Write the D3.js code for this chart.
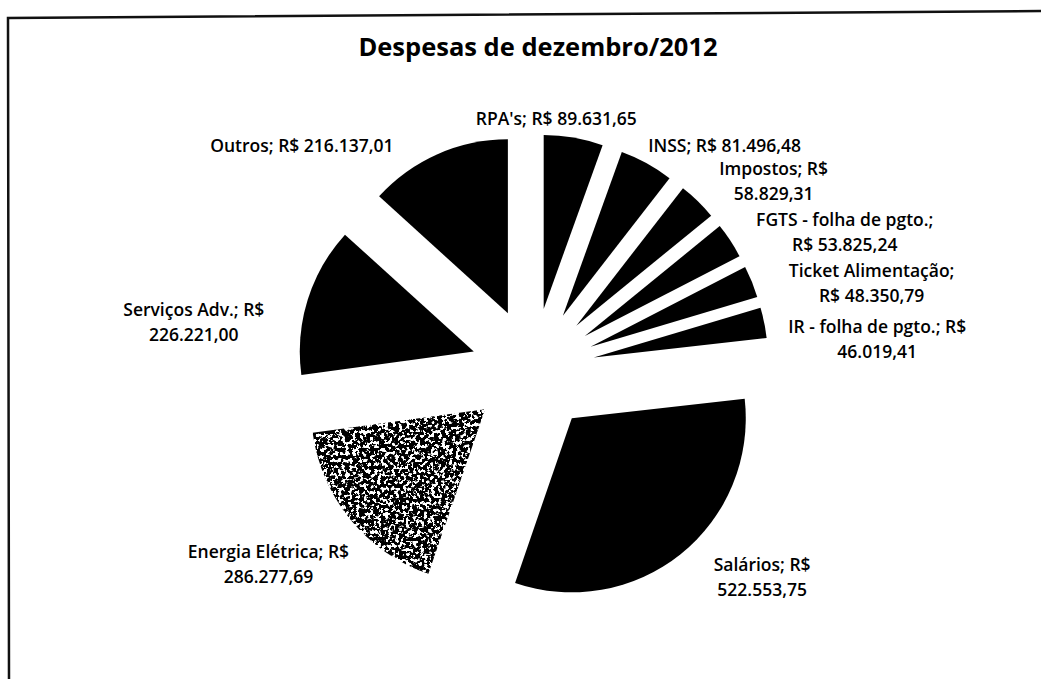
<!DOCTYPE html>
<html>
<head>
<meta charset="utf-8">
<script src="https://cdn.jsdelivr.net/npm/d3@7"></script>
<style>
  body { margin: 0; background: #fff; }
  svg { display: block; font-family: "Open Sans", Lato, sans-serif; }
</style>
</head>
<body>
<svg id="chart" width="1041" height="679"></svg>
<script>
// data
const categories = ["RPA's", "INSS", "Impostos", "FGTS - folha de pgto.", "Ticket Alimentação",
    "IR - folha de pgto.", "Salários", "Energia Elétrica", "Serviços Adv.", "Outros"];
const values = [89631.65, 81496.48, 58829.31, 53825.24, 48350.79,
    46019.41, 522553.75, 286277.69, 226221.00, 216137.01];
// how each label wraps, as excel did it
const label_lines = [
    ["RPA's; R$ 89.631,65"],
    ["INSS; R$ 81.496,48"],
    ["Impostos; R$", "58.829,31"],
    ["FGTS - folha de pgto.;", "R$ 53.825,24"],
    ["Ticket Alimentação;", "R$ 48.350,79"],
    ["IR - folha de pgto.; R$", "46.019,41"],
    ["Salários; R$", "522.553,75"],
    ["Energia Elétrica; R$", "286.277,69"],
    ["Serviços Adv.; R$", "226.221,00"],
    ["Outros; R$ 216.137,01"]
];
const title = "Despesas de dezembro/2012";

// layout
const width = 1041, height = 679;
const cx = 533, cy = 370;
const radius = 174;
const explode = 62;
const label_radius = 240;
const line_height = 25;
// excel pushes labels around to keep them apart
const label_nudge = [[-18, -15], [76, -14], [73, -17], [111, -6], [116, 3],
    [109, 17], [79, 20], [-79, 42], [-110, 24], [-134, -5]];

let svg = d3.select('#chart');

let defs = svg.append('defs');
let grain = defs.append('filter').attr('id', 'grain')
    .attr('x', '-5%').attr('y', '-5%').attr('width', '110%').attr('height', '110%');
grain.append('feTurbulence')
    .attr('type', 'fractalNoise')
    .attr('baseFrequency', 0.28)
    .attr('numOctaves', 4)
    .attr('seed', 11)
    .attr('result', 'noise');
grain.append('feColorMatrix')
    .attr('in', 'noise')
    .attr('type', 'matrix')
    .attr('values', '0 0 0 0 0  0 0 0 0 0  0 0 0 0 0  0 0 0 -16 9.3')
    .attr('result', 'mask');
grain.append('feComposite')
    .attr('in', 'SourceGraphic')
    .attr('in2', 'mask')
    .attr('operator', 'in');

// scanned frame
svg.append('path')
    .attr('d', 'M9,679 L8,18 L1041,11')
    .attr('fill', 'none')
    .attr('stroke', '#111')
    .attr('stroke-width', 2.5);

svg.append('text')
    .attr('x', 538)
    .attr('y', 56)
    .attr('text-anchor', 'middle')
    .style('font-size', '25.5px')
    .style('font-weight', 'bold')
    .text(title);

let pie = d3.pie().sort(null).value(d => d);
let arcs = pie(values);
let arc = d3.arc().innerRadius(0).outerRadius(radius);

let g = svg.append('g').attr('transform', 'translate(' + cx + ',' + cy + ')');

g.selectAll('path.slice')
    .data(arcs)
    .enter()
    .append('path')
    .attr('class', 'slice')
    .attr('d', arc)
    .attr('transform', function (d) {
        let mid = (d.startAngle + d.endAngle) / 2;
        return 'translate(' + (explode * Math.sin(mid)) + ',' + (-explode * Math.cos(mid)) + ')';
    })
    .attr('fill', '#000')
    .attr('filter', (d, i) => categories[i] === 'Energia Elétrica' ? 'url(#grain)' : null);

let labels = g.selectAll('text.label')
    .data(arcs)
    .enter()
    .append('text')
    .attr('class', 'label')
    .attr('text-anchor', 'middle')
    .style('font-size', '17.5px')
    .style('font-weight', '600')
    .attr('fill', '#000')
    .attr('transform', function (d, i) {
        let mid = (d.startAngle + d.endAngle) / 2;
        let x = label_radius * Math.sin(mid) + label_nudge[i][0];
        let y = -label_radius * Math.cos(mid) + label_nudge[i][1];
        let n = label_lines[i].length;
        return 'translate(' + x + ',' + (y - (n - 1) * line_height / 2 + 6) + ')';
    });

labels.each(function (d, i) {
    let t = d3.select(this);
    label_lines[i].forEach(function (line, k) {
        t.append('tspan')
            .attr('x', 0)
            .attr('dy', k === 0 ? 0 : line_height)
            .text(line);
    });
});
</script>
</body>
</html>
